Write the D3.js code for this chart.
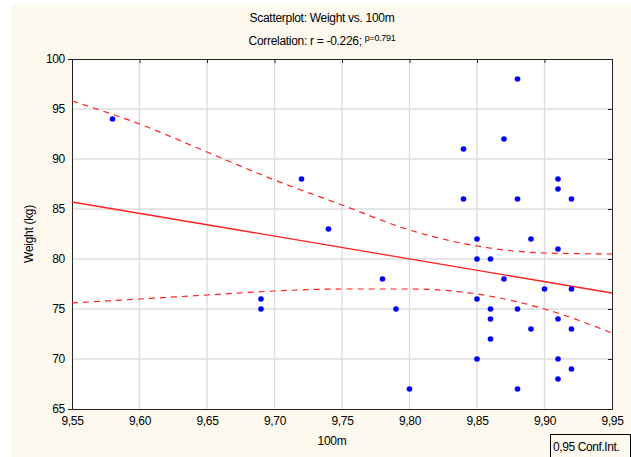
<!DOCTYPE html>
<html>
<head>
<meta charset="utf-8">
<script src="https://cdn.jsdelivr.net/npm/d3@7"></script>
<style>
  body { margin: 0; background: #fff; }
  text { font-family: "Liberation Sans", Arial, sans-serif; fill: #000; }
</style>
</head>
<body>
<div id="chart"></div>
<script>
// 100m time (s) and body weight (kg)
let times = [9.58, 9.72, 9.74, 9.69, 9.69, 9.78, 9.79, 9.80, 9.88, 9.84, 9.87, 9.84, 9.88,
             9.91, 9.91, 9.92, 9.85, 9.89, 9.91, 9.85, 9.86, 9.87, 9.90, 9.92, 9.85, 9.86,
             9.88, 9.86, 9.91, 9.89, 9.92, 9.86, 9.85, 9.91, 9.92, 9.91, 9.88];
let weights = [94, 88, 83, 76, 75, 78, 75, 67, 98, 91, 92, 86, 86,
               88, 87, 86, 82, 82, 81, 80, 80, 78, 77, 77, 76, 75,
               75, 74, 74, 73, 73, 72, 70, 70, 69, 68, 67];

// fitted line and 0.95 confidence band, read at these x positions
let fitX = [9.55, 9.95];
let fitY = [85.7, 76.6];
let bandX = [9.55, 9.60, 9.65, 9.70, 9.75, 9.80, 9.85, 9.90, 9.95];
let upperY = [95.8, 93.5, 90.7, 87.9, 85.4, 82.9, 81.3, 80.6, 80.5];
let lowerY = [75.6, 76.0, 76.4, 76.8, 77.0, 77.0, 76.5, 75.0, 72.6];

let xTicks = [9.55, 9.60, 9.65, 9.70, 9.75, 9.80, 9.85, 9.90, 9.95];
let yTicks = [65, 70, 75, 80, 85, 90, 95, 100];

let width = 631, height = 457;
let pLeft = 72, pRight = 612, pTop = 59, pBottom = 409;

let svg = d3.select("#chart").append("svg")
    .attr("width", width)
    .attr("height", height);

svg.append("rect")
    .attr("x", 11).attr("y", 5)
    .attr("width", width - 11).attr("height", height - 5)
    .attr("fill", "#fdf9ef");

let xScale = d3.scaleLinear().domain([9.55, 9.95]).range([pLeft, pRight]);
let yScale = d3.scaleLinear().domain([65, 100]).range([pBottom, pTop]);

svg.append("rect")
    .attr("x", pLeft).attr("y", pTop)
    .attr("width", pRight - pLeft).attr("height", pBottom - pTop)
    .attr("fill", "#fff");

// grid
svg.append("g").selectAll("line").data(xTicks.slice(1, -1)).join("line")
    .attr("x1", (d) => xScale(d)).attr("x2", (d) => xScale(d))
    .attr("y1", pTop).attr("y2", pBottom)
    .attr("stroke", "#dcdcdc").attr("stroke-width", 1.3);
svg.append("g").selectAll("line").data(yTicks.slice(1, -1)).join("line")
    .attr("x1", pLeft).attr("x2", pRight)
    .attr("y1", (d) => yScale(d)).attr("y2", (d) => yScale(d))
    .attr("stroke", "#dcdcdc").attr("stroke-width", 1.3);

let fmt = (d) => d3.format(".2f")(d).replace(".", ",");

let xAxis = svg.append("g")
    .attr("transform", `translate(0, ${pBottom})`)
    .call(d3.axisBottom(xScale).tickValues(xTicks).tickFormat(fmt).tickSize(0).tickPadding(7));
let yAxis = svg.append("g")
    .attr("transform", `translate(${pLeft}, 0)`)
    .call(d3.axisLeft(yScale).tickValues(yTicks).tickFormat(d3.format("d")).tickSize(4).tickPadding(3));
let topAxis = svg.append("g")
    .attr("transform", `translate(0, ${pTop})`)
    .call(d3.axisBottom(xScale).tickValues(xTicks).tickFormat("").tickSize(4));
let rightAxis = svg.append("g")
    .attr("transform", `translate(${pRight}, 0)`)
    .call(d3.axisLeft(yScale).tickValues(yTicks).tickFormat("").tickSize(4));

[xAxis, yAxis, topAxis, rightAxis].forEach((g) => {
    g.selectAll("text").attr("font-size", 12).attr("letter-spacing", -0.3)
        .attr("font-family", "Liberation Sans, Arial, sans-serif");
    g.selectAll("path, line").attr("stroke", "#222");
});
yAxis.selectAll(".tick line").attr("x2", 0);

// band and fit
let line = d3.line()
    .x((d) => xScale(d[0]))
    .y((d) => yScale(d[1]))
    .curve(d3.curveMonotoneX);

svg.append("path")
    .datum(bandX.map((x, i) => [x, upperY[i]]))
    .attr("d", line)
    .attr("fill", "none").attr("stroke", "#ff2020")
    .attr("stroke-width", 1.2).attr("stroke-dasharray", "6,5");
svg.append("path")
    .datum(bandX.map((x, i) => [x, lowerY[i]]))
    .attr("d", line)
    .attr("fill", "none").attr("stroke", "#ff2020")
    .attr("stroke-width", 1.2).attr("stroke-dasharray", "6,5");
svg.append("path")
    .datum(fitX.map((x, i) => [x, fitY[i]]))
    .attr("d", line)
    .attr("fill", "none").attr("stroke", "#ff2020")
    .attr("stroke-width", 1.3);

// points
svg.append("g").selectAll("circle").data(times).join("circle")
    .attr("cx", (d) => xScale(d))
    .attr("cy", (d, i) => yScale(weights[i]))
    .attr("r", 2.8)
    .attr("fill", "#0000ff");

// titles
svg.append("text")
    .attr("x", 322).attr("y", 22)
    .attr("text-anchor", "middle").attr("font-size", 12).attr("letter-spacing", -0.3)
    .text("Scatterplot: Weight vs. 100m");
let corr = svg.append("text")
    .attr("x", 322).attr("y", 45)
    .attr("text-anchor", "middle").attr("font-size", 12).attr("letter-spacing", -0.3);
corr.append("tspan").text("Correlation: r = -0.226; ");
corr.append("tspan").attr("font-size", 9).attr("dy", -4).text("p=0.791");

svg.append("text")
    .attr("x", 332).attr("y", 445)
    .attr("text-anchor", "middle").attr("font-size", 12).attr("letter-spacing", -0.3)
    .text("100m");
svg.append("text")
    .attr("transform", "translate(33, 234) rotate(-90)")
    .attr("text-anchor", "middle").attr("font-size", 12).attr("letter-spacing", -0.3)
    .text("Weight (kg)");

// legend
svg.append("rect")
    .attr("x", 550.5).attr("y", 434.5)
    .attr("width", 80).attr("height", 24)
    .attr("fill", "none").attr("stroke", "#000");
svg.append("text")
    .attr("x", 553).attr("y", 451)
    .attr("font-size", 12).attr("letter-spacing", -0.4)
    .text("0,95 Conf.Int.");
</script>
</body>
</html>
